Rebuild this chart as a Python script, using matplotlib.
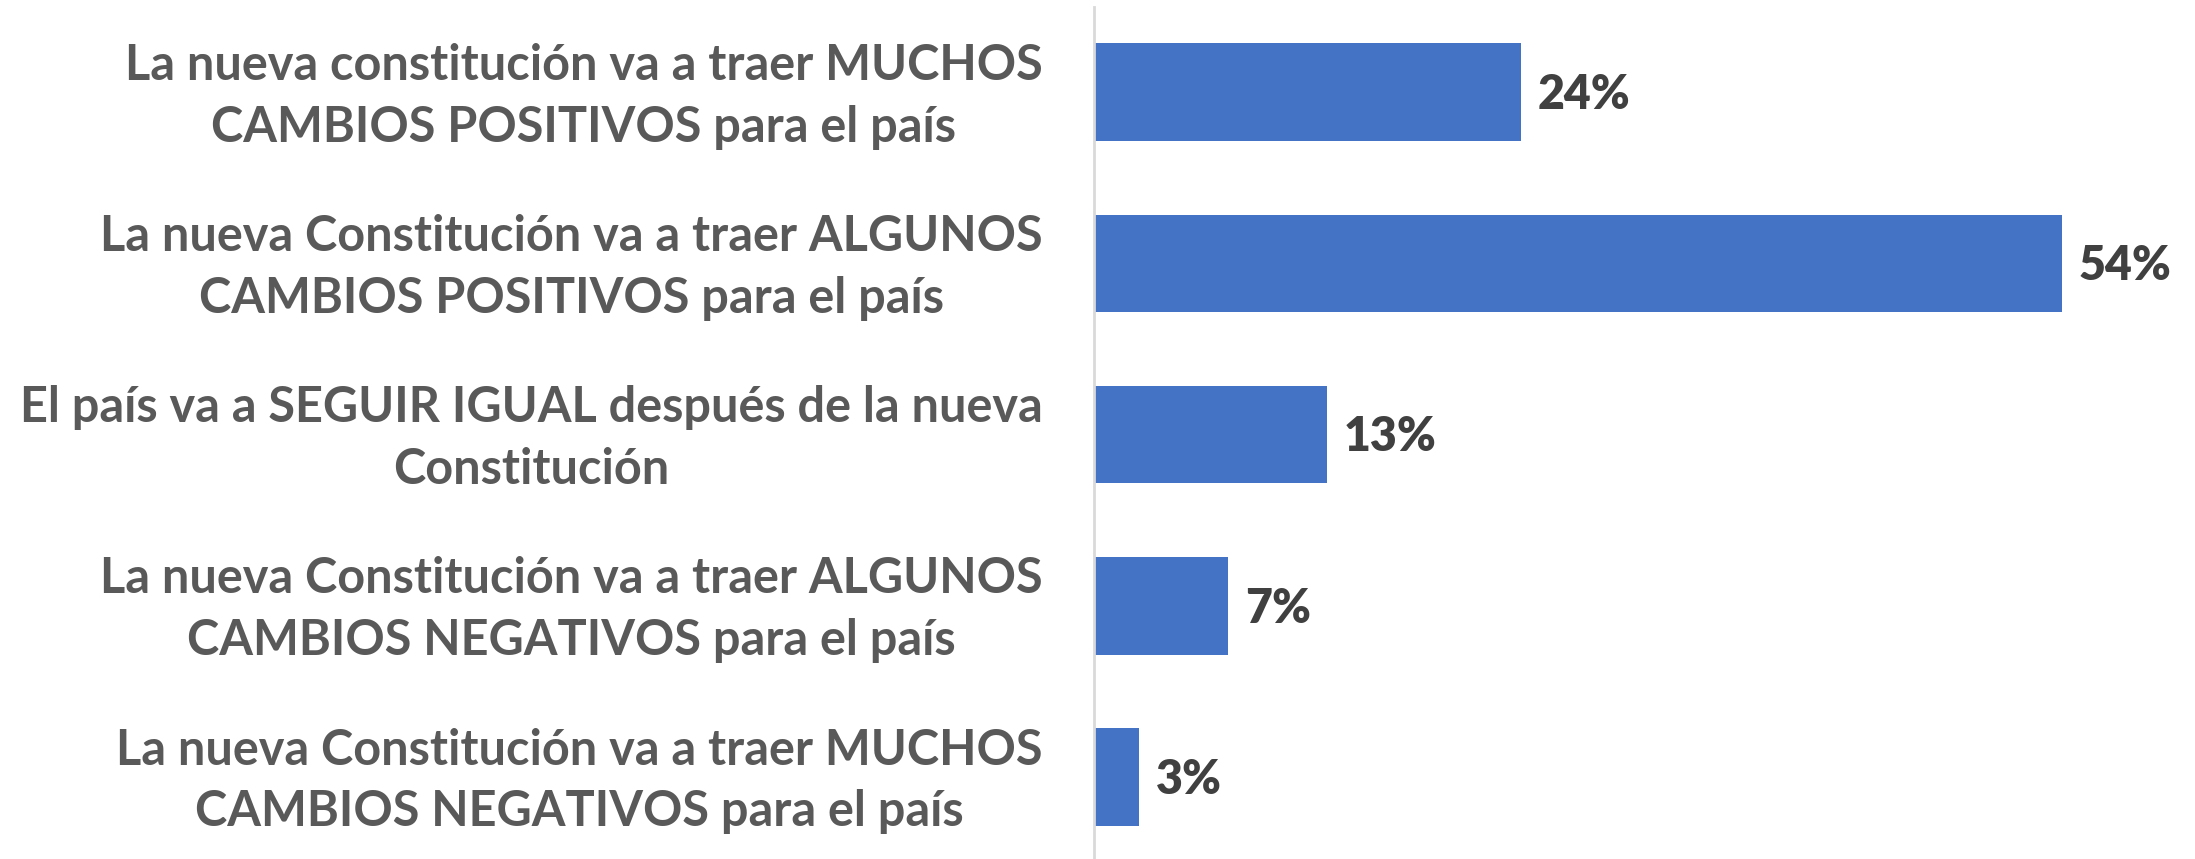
import matplotlib
matplotlib.use('Agg')
import matplotlib.pyplot as plt
from matplotlib.transforms import ScaledTranslation

# data (top to bottom)
categories = [
    'La nueva constitución va a traer MUCHOS\nCAMBIOS POSITIVOS para el país',
    'La nueva Constitución va a traer ALGUNOS\nCAMBIOS POSITIVOS para el país',
    'El país va a SEGUIR IGUAL después de la nueva\nConstitución',
    'La nueva Constitución va a traer ALGUNOS\nCAMBIOS NEGATIVOS para el país',
    'La nueva Constitución va a traer MUCHOS\nCAMBIOS NEGATIVOS para el país',
]
values = [23.8, 54.0, 13.0, 7.5, 2.5]
value_labels = ['24%', '54%', '13%', '7%', '3%']

plt.rcParams['font.family'] = ['Lato', 'DejaVu Sans']

W, H = 2195, 859
fig = plt.figure(figsize=(W / 100, H / 100), dpi=100)
px_per_pct = 17.93
xmax = 60
ax = fig.add_axes([1094 / W, -3.6 / H, xmax * px_per_pct / W, 856 / H])

ypos = list(range(len(categories)))
ax.barh(ypos, values, height=0.57, color='#4472C4')
ax.set_ylim(len(categories) - 0.5, -0.5)
ax.set_xlim(0, xmax)

for y, v, lab in zip(ypos, values, value_labels):
    ax.annotate(lab, (v, y), xytext=(12, -2), textcoords='offset points',
                va='center', ha='left', fontsize=33.5, fontweight='heavy',
                color='#404040')

ax.set_yticks(ypos)
ax.set_yticklabels(categories, fontsize=35, fontweight='bold', color='#595959',
                   multialignment='center', linespacing=1.45)
ax.tick_params(axis='y', length=0, pad=37)
ax.set_xticks([])

# nudge the category labels up a bit (descenders push the bbox down)
shift = ScaledTranslation(0, 6 / 72, fig.dpi_scale_trans)
for t in ax.get_yticklabels():
    t.set_transform(t.get_transform() + shift)

for s in ['top', 'right', 'bottom']:
    ax.spines[s].set_visible(False)
ax.spines['left'].set_color('#d9d9d9')
ax.spines['left'].set_linewidth(2)

fig.savefig('out.png', dpi=100)
